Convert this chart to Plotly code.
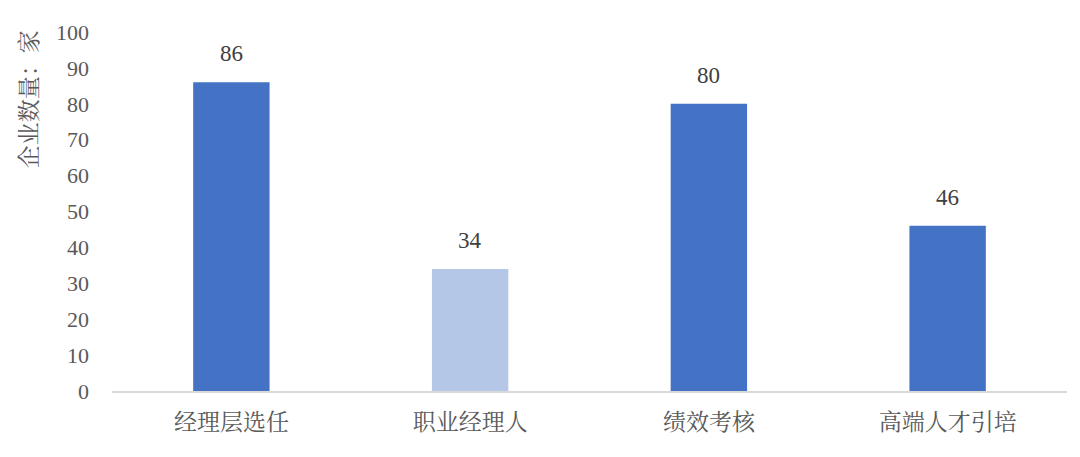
import plotly.graph_objects as go

categories = ["经理层选任", "职业经理人", "绩效考核", "高端人才引培"]
values = [86, 34, 80, 46]
bar_colors = ["#4472C4", "#B4C7E7", "#4472C4", "#4472C4"]
y_ticks = list(range(0, 101, 10))
y_title = "企业数量：家"

FONT = "Liberation Serif, Noto Serif CJK SC, Noto Sans CJK SC, serif"

fig = go.Figure(
    go.Bar(
        x=categories,
        y=values,
        marker=dict(color=bar_colors, line=dict(width=0)),
        hoverinfo="x+y",
    )
)

annotations = [
    dict(
        x=c, y=v, xref="x", yref="y", text=str(v), showarrow=False,
        yanchor="bottom", yshift=14,
        font=dict(family=FONT, size=23, color="#404040"),
    )
    for c, v in zip(categories, values)
]
annotations.append(
    dict(
        text=y_title,
        textangle=-90,
        xref="paper",
        yref="paper",
        x=-0.086,
        y=1.01,
        xanchor="center",
        yanchor="top",
        showarrow=False,
        font=dict(family=FONT, size=23, color="#595959"),
    )
)

fig.update_layout(
    width=1080,
    height=457,
    margin=dict(l=104, r=21, t=20, b=74),
    paper_bgcolor="white",
    plot_bgcolor="white",
    bargap=0.68,
    showlegend=False,
    font=dict(family=FONT, color="#595959"),
    xaxis=dict(
        showline=True,
        linecolor="#D9D9D9",
        linewidth=1.5,
        ticks="",
        showgrid=False,
        ticklabelstandoff=10,
        tickfont=dict(family=FONT, size=23, color="#595959"),
    ),
    yaxis=dict(
        range=[0, 100],
        tickvals=y_ticks,
        showgrid=False,
        zeroline=False,
        showline=False,
        ticks="",
        ticklabelstandoff=22,
        tickfont=dict(family=FONT, size=22, color="#595959"),
    ),
    annotations=annotations,
)

fig.write_html("out.html")
